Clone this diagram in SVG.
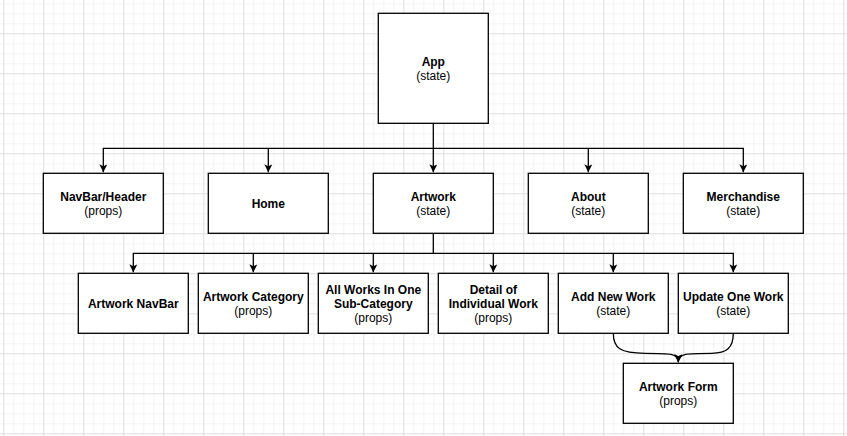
<svg xmlns="http://www.w3.org/2000/svg" width="847" height="436" viewBox="0 0 847 436">
<style>
.box{fill:#fff;stroke:#000;stroke-width:1.3}
.t{font-family:"Liberation Sans",Arial,sans-serif;font-size:12px;text-anchor:middle;fill:#000}
.b{font-weight:bold}
.e{fill:none;stroke:#000;stroke-width:1.3}
</style>
<defs>
<pattern id="minor" x="3.3" y="3.3" width="10" height="10" patternUnits="userSpaceOnUse">
<path d="M0.5 0V10M0 0.5H10" stroke="#f3f3f3" stroke-width="1" fill="none"/>
</pattern>
<pattern id="major" x="3.3" y="33.3" width="40" height="40" patternUnits="userSpaceOnUse">
<path d="M0.5 0V40M0 0.5H40" stroke="#e3e3e3" stroke-width="1" fill="none"/>
</pattern>
<marker id="arr" viewBox="0 0 10 10" refX="10" refY="5" markerWidth="8" markerHeight="8" markerUnits="userSpaceOnUse" orient="auto">
<path d="M0 0L10 5L0 10L2.5 5Z" fill="#000"/>
</marker>
</defs>
<rect width="847" height="436" fill="#fff"/>
<rect width="847" height="436" fill="url(#minor)"/>
<rect width="847" height="436" fill="url(#major)"/>

<g id="connectors">
<path class="e" d="M433.3 123.3V148.3H103.3V172.3" marker-end="url(#arr)"/>
<path class="e" d="M268.3 148.3V172.3" marker-end="url(#arr)"/>
<path class="e" d="M433.3 148.3V172.3" marker-end="url(#arr)"/>
<path class="e" d="M433.3 148.3H743.3V172.3" marker-end="url(#arr)"/>
<path class="e" d="M588.3 148.3V172.3" marker-end="url(#arr)"/>
<path class="e" d="M433.3 233.3V253.3H133.3V272.3" marker-end="url(#arr)"/>
<path class="e" d="M253.3 253.3V272.3" marker-end="url(#arr)"/>
<path class="e" d="M373.3 253.3V272.3" marker-end="url(#arr)"/>
<path class="e" d="M493.3 253.3V272.3" marker-end="url(#arr)"/>
<path class="e" d="M433.3 253.3H733.3V272.3" marker-end="url(#arr)"/>
<path class="e" d="M613.3 253.3V272.3" marker-end="url(#arr)"/>
<path class="e" d="M613.3 333.3C613.3 348 620 353.3 645 353.3C670 353.3 678.3 353.3 678.3 362.3" marker-end="url(#arr)"/>
<path class="e" d="M733.3 333.3C733.3 348 726.6 353.3 711.6 353.3C686.6 353.3 678.3 353.3 678.3 362.3" marker-end="url(#arr)"/>
</g>

<g id="app"><rect class="box" x="378.3" y="13.3" width="110" height="110"/><text class="t b" x="433.3" y="65.5">App</text><text class="t" x="433.3" y="79.5">(state)</text></g>

<g id="navbar"><rect class="box" x="43.3" y="173.3" width="120" height="60"/><text class="t b" x="103.3" y="200.5">NavBar/Header</text><text class="t" x="103.3" y="214.5">(props)</text></g>
<g id="home"><rect class="box" x="208.3" y="173.3" width="120" height="60"/><text class="t b" x="268.3" y="207.5">Home</text></g>
<g id="artwork"><rect class="box" x="373.3" y="173.3" width="120" height="60"/><text class="t b" x="433.3" y="200.5">Artwork</text><text class="t" x="433.3" y="214.5">(state)</text></g>
<g id="about"><rect class="box" x="528.3" y="173.3" width="120" height="60"/><text class="t b" x="588.3" y="200.5">About</text><text class="t" x="588.3" y="214.5">(state)</text></g>
<g id="merch"><rect class="box" x="683.3" y="173.3" width="120" height="60"/><text class="t b" x="743.3" y="200.5">Merchandise</text><text class="t" x="743.3" y="214.5">(state)</text></g>

<g id="artnav"><rect class="box" x="78.3" y="273.3" width="110" height="60"/><text class="t b" x="133.3" y="307.5">Artwork NavBar</text></g>
<g id="artcat"><rect class="box" x="198.3" y="273.3" width="110" height="60"/><text class="t b" x="253.3" y="300.5">Artwork Category</text><text class="t" x="253.3" y="314.5">(props)</text></g>
<g id="allworks"><rect class="box" x="318.3" y="273.3" width="110" height="60"/><text class="t b" x="373.3" y="293.5">All Works In One</text><text class="t b" x="373.3" y="307.5">Sub-Category</text><text class="t" x="373.3" y="321.5">(props)</text></g>
<g id="detail"><rect class="box" x="438.3" y="273.3" width="110" height="60"/><text class="t b" x="493.3" y="293.5">Detail of</text><text class="t b" x="493.3" y="307.5">Individual Work</text><text class="t" x="493.3" y="321.5">(props)</text></g>
<g id="addnew"><rect class="box" x="558.3" y="273.3" width="110" height="60"/><text class="t b" x="613.3" y="300.5">Add New Work</text><text class="t" x="613.3" y="314.5">(state)</text></g>
<g id="update"><rect class="box" x="678.3" y="273.3" width="110" height="60"/><text class="t b" x="733.3" y="300.5">Update One Work</text><text class="t" x="733.3" y="314.5">(state)</text></g>

<g id="form"><rect class="box" x="623.3" y="363.3" width="110" height="60"/><text class="t b" x="678.3" y="390.5">Artwork Form</text><text class="t" x="678.3" y="404.5">(props)</text></g>
</svg>
